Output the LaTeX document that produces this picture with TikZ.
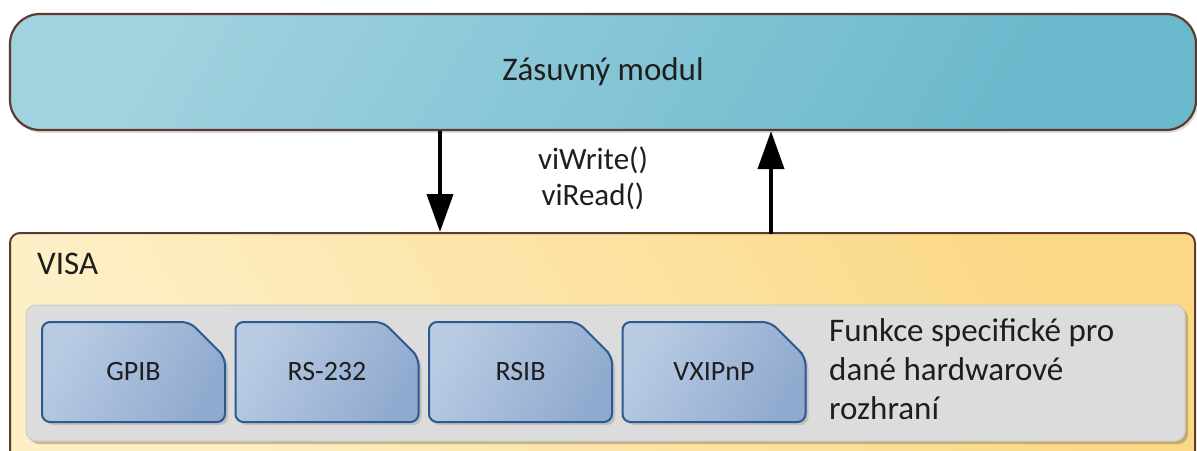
\documentclass[tikz,border=0pt]{standalone}
\usepackage{fontspec}
\setmainfont{Carlito}
\usetikzlibrary{shapes.misc,shadows,arrows.meta}
\definecolor{plugA}{HTML}{A0D2DF}
\definecolor{plugB}{HTML}{6AB8CC}
\definecolor{brownline}{HTML}{5E3B2C}
\definecolor{visaA}{HTML}{FDEFC6}
\definecolor{visaB}{HTML}{FBD886}
\definecolor{greyfill}{HTML}{DCDCDC}
\definecolor{greyline}{HTML}{CACACA}
\definecolor{blueA}{HTML}{B9CBE3}
\definecolor{blueB}{HTML}{90AACF}
\definecolor{blueline}{HTML}{2C5A8E}
\definecolor{txt}{HTML}{1E1E1E}
\tikzset{
  plugbox/.style={draw=brownline, line width=2.2pt, rounded corners=30pt,
    left color=plugA, right color=plugB, shading angle=60,
    drop shadow={shadow xshift=2pt, shadow yshift=-3pt, opacity=0.25},
    inner sep=0pt, text=txt, font=\fontsize{33}{38}\selectfont},
  visabox/.style={draw=brownline, line width=2pt, rounded corners=10pt,
    left color=visaA, right color=visaB, shading angle=120, inner sep=0pt},
  greybox/.style={draw=greyline, line width=1pt, rounded corners=10pt, fill=greyfill,
    drop shadow={shadow xshift=3pt, shadow yshift=-3pt, opacity=0.35, fill=black!60!visaB},
    inner sep=0pt},
  hwbox/.style={chamfered rectangle, chamfered rectangle corners=north east,
    chamfered rectangle xsep=24pt, chamfered rectangle ysep=26pt,
    draw=blueline, line width=2pt, rounded corners=8pt,
    left color=blueA, right color=blueB, shading angle=60,
    drop shadow={shadow xshift=3pt, shadow yshift=-3pt, opacity=0.3},
    minimum width=183pt, minimum height=100pt, inner sep=0pt,
    text=txt, font=\fontsize{28}{32}\selectfont},
  lbl/.style={text=txt, inner sep=0pt, font=\fontsize{33}{39}\selectfont},
  arr/.style={line width=4pt, -{Triangle[width=26pt,length=38pt]}}
}
\begin{document}
\begin{tikzpicture}[x=1pt,y=-1pt]
\useasboundingbox (0,0) rectangle (1197,450);
\clip (0,0) rectangle (1197,450);
% VISA layer
\node[visabox, minimum width=1185pt, minimum height=260pt] (visa) at (602.5,363) {};
\node[lbl, anchor=base west] (visalbl) at (37,274) {VISA};
\node[greybox, minimum width=1159pt, minimum height=136pt] (grey) at (605.5,373) {};
\node[hwbox] (gpib) at (133.5,372) {GPIB};
\node[hwbox] (rs) at (327,372) {RS-232};
\node[hwbox] (rsib) at (520.5,372) {RSIB};
\node[hwbox] (vxi) at (714,372) {VXIPnP};
\node[lbl, anchor=north west, align=left] (func) at (829,318)
  {Funkce specifické pro\\dané hardwarové\\rozhraní};
% plug-in module
\node[plugbox, minimum width=1186pt, minimum height=116pt] (plug) at (603,72) {Zásuvný modul};
% calls
\node[lbl, align=center, font=\fontsize{31}{36}\selectfont] (calls) at (593,178) {viWrite()\\viRead()};
\draw[arr] (plug.south -| 440,0) -- (visa.north -| 440,0);
\draw[arr] (visa.north -| 771,0) ++(0,2) -- (plug.south -| 771,0);
\end{tikzpicture}
\end{document}
